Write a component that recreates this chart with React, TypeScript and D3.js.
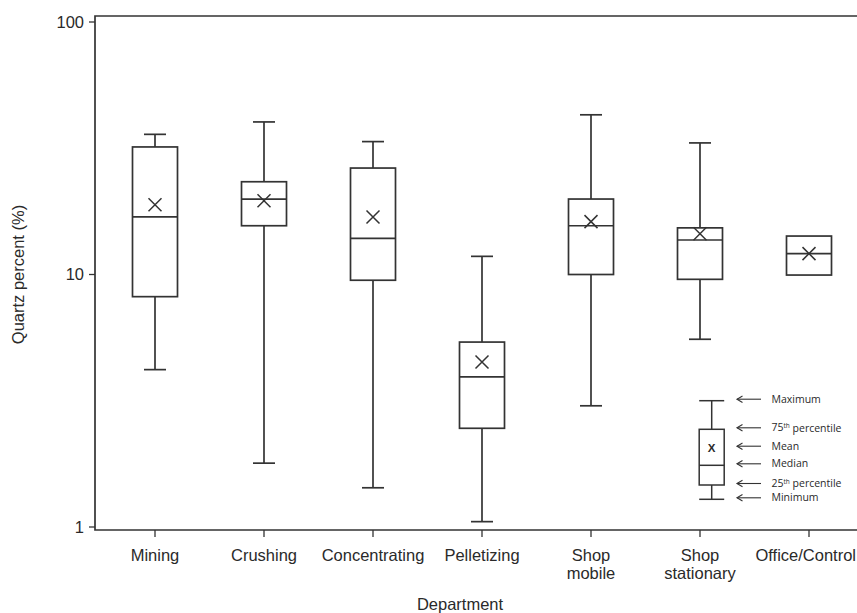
import React from "react";
import * as d3 from "d3";

const categories = ["Mining", "Crushing", "Concentrating", "Pelletizing", "Shop mobile", "Shop stationary", "Office/Control"];
const labelLines = [["Mining"], ["Crushing"], ["Concentrating"], ["Pelletizing"], ["Shop", "mobile"], ["Shop", "stationary"], ["Office/Control"]];
const minValues: (number | null)[] = [4.2, 1.79, 1.43, 1.05, 3.02, 5.54, null];
const q1Values = [8.17, 15.6, 9.49, 2.46, 10.0, 9.57, 9.95];
const medianValues = [16.9, 19.9, 13.9, 3.93, 15.6, 13.7, 12.1];
const meanValues = [18.9, 19.6, 16.9, 4.5, 16.2, 14.5, 12.1];
const q3Values = [32.0, 23.3, 26.4, 5.4, 19.9, 15.3, 14.2];
const maxValues: (number | null)[] = [35.9, 40.2, 33.6, 11.8, 42.9, 33.2, null];
const yTicks = [1, 10, 100];
const legendLabels = [
  { main: "Maximum", sup: "", rest: "" },
  { main: "75", sup: "th", rest: " percentile" },
  { main: "Mean", sup: "", rest: "" },
  { main: "Median", sup: "", rest: "" },
  { main: "25", sup: "th", rest: " percentile" },
  { main: "Minimum", sup: "", rest: "" },
];

const W = 857;
const H = 613;
const INK = "#333";
const TXT = "#2a2a2a";
const FONT = "'Liberation Sans', Arial, sans-serif";
const FS = 16.5;

export default function App() {
  const frameLeft = 95;
  const frameTop = 16;
  const frameBottom = 530;
  const y = d3.scaleLog().domain([1, 100]).range([527, 22]);
  const x = d3.scaleBand<string>().domain(categories).range([100.5, 863.5]).padding(0);
  const cx = (c: string) => (x(c) as number) + x.bandwidth() / 2;
  const boxHalf = 22.5;
  const capHalf = 11;
  const xm = 6.5;

  // legend geometry (illustrative key, in pixel units)
  const lgX = 711.7;
  const lgYs = [400.7, 429.3, 447.7, 465.3, 485, 499.3];
  const lgHalf = 12.5;

  const labelPos = (c: string, ln: string) => {
    const half = ln.length * FS * 0.27;
    const X = cx(c);
    if (X + half > W - 1) return { x: W - 1, anchor: "end" };
    return { x: X, anchor: "middle" };
  };

  return (
    <svg width={W} height={H} style={{ position: "absolute", left: 0, top: 0, background: "#fff" }} fontFamily={FONT}>
      {/* frame */}
      <path d={`M${W + 20},${frameTop}H${frameLeft}V${frameBottom}H${W + 20}`} fill="none" stroke={INK} strokeWidth={1.7} />
      {/* y ticks */}
      {yTicks.map((t) => (
        <g key={t}>
          <line x1={frameLeft - 6} x2={frameLeft} y1={y(t)} y2={y(t)} stroke={INK} strokeWidth={1.3} />
          <text x={frameLeft - 11} y={y(t)} dy="0.35em" textAnchor="end" fontSize={FS} fill={TXT}>
            {t}
          </text>
        </g>
      ))}
      <text transform={`translate(24,${y(10)}) rotate(-90)`} textAnchor="middle" fontSize={FS} fill={TXT}>
        Quartz percent (%)
      </text>
      {/* x ticks and labels */}
      {categories.map((c, i) => (
        <g key={c}>
          <line x1={cx(c)} x2={cx(c)} y1={frameBottom} y2={frameBottom + 7} stroke={INK} strokeWidth={1.3} />
          {labelLines[i].map((ln, j) => {
            const p = labelPos(c, ln);
            return (
              <text key={j} x={p.x} y={561 + j * 18} textAnchor={p.anchor} fontSize={FS} fill={TXT}>
                {ln}
              </text>
            );
          })}
        </g>
      ))}
      <text x={460} y={610} textAnchor="middle" fontSize={FS} fill={TXT}>
        Department
      </text>
      {/* boxes */}
      {categories.map((c, i) => {
        const X = cx(c);
        const mn = minValues[i];
        const mx = maxValues[i];
        return (
          <g key={c} stroke={INK} strokeWidth={1.7} fill="none">
            {mx !== null && (
              <>
                <line x1={X} x2={X} y1={y(mx)} y2={y(q3Values[i])} />
                <line x1={X - capHalf} x2={X + capHalf} y1={y(mx)} y2={y(mx)} />
              </>
            )}
            {mn !== null && (
              <>
                <line x1={X} x2={X} y1={y(q1Values[i])} y2={y(mn)} />
                <line x1={X - capHalf} x2={X + capHalf} y1={y(mn)} y2={y(mn)} />
              </>
            )}
            <rect x={X - boxHalf} y={y(q3Values[i])} width={boxHalf * 2} height={y(q1Values[i]) - y(q3Values[i])} />
            <line x1={X - boxHalf} x2={X + boxHalf} y1={y(medianValues[i])} y2={y(medianValues[i])} />
            <path
              d={`M${X - xm},${y(meanValues[i]) - xm}L${X + xm},${y(meanValues[i]) + xm}M${X + xm},${y(meanValues[i]) - xm}L${X - xm},${y(meanValues[i]) + xm}`}
              strokeWidth={1.5}
            />
          </g>
        );
      })}
      {/* legend key */}
      <g stroke={INK} strokeWidth={1.5} fill="none">
        <line x1={lgX - lgHalf} x2={lgX + lgHalf} y1={lgYs[0]} y2={lgYs[0]} />
        <line x1={lgX} x2={lgX} y1={lgYs[0]} y2={lgYs[1]} />
        <rect x={lgX - lgHalf} y={lgYs[1]} width={lgHalf * 2} height={lgYs[4] - lgYs[1]} />
        <line x1={lgX - lgHalf} x2={lgX + lgHalf} y1={lgYs[3]} y2={lgYs[3]} />
        <line x1={lgX} x2={lgX} y1={lgYs[4]} y2={lgYs[5]} />
        <line x1={lgX - lgHalf} x2={lgX + lgHalf} y1={lgYs[5]} y2={lgYs[5]} />
      </g>
      <text x={lgX} y={lgYs[2]} dy="0.35em" textAnchor="middle" fontSize={11.5} fontWeight="bold" fill={TXT}>
        X
      </text>
      {legendLabels.map((l, i) => {
        const yy = lgYs[i] - 1.5;
        return (
          <g key={i}>
            <g stroke={INK} strokeWidth={1.1} fill="none">
              <line x1={737} x2={761} y1={yy} y2={yy} />
              <path d={`M742.5,${yy - 3.2}L737,${yy}L742.5,${yy + 3.2}`} />
            </g>
            <text x={771.5} y={yy} dy="0.35em" fontSize={10.5} fill={TXT} fontFamily="'Open Sans', 'Noto Sans', sans-serif">
              {l.main}
              {l.sup && (
                <tspan fontSize={6.5} dy="-0.5em">
                  {l.sup}
                </tspan>
              )}
              {l.rest && <tspan dy={l.sup ? "0.33em" : 0}>{l.rest}</tspan>}
            </text>
          </g>
        );
      })}
    </svg>
  );
}
